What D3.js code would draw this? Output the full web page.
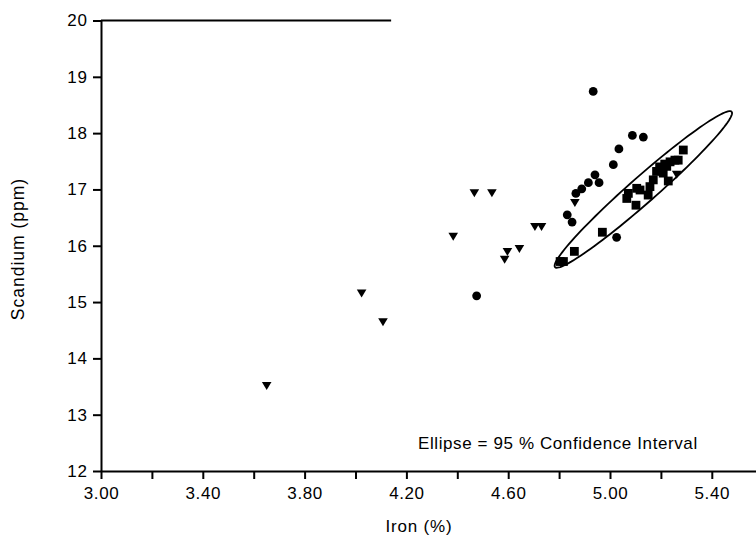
<!DOCTYPE html>
<html>
<head>
<meta charset="utf-8">
<script src="https://cdn.jsdelivr.net/npm/d3@7"></script>
<style>
	body { margin: 0; background: #fff; }
	svg text { font-family: "Liberation Sans", Arial, Helvetica, sans-serif; fill: #000; }
</style>
</head>
<body>
<svg id="chart"></svg>
<script>

// circles
var circleIron		=	[4.934, 5.088, 5.131, 5.035, 5.013, 4.941, 4.957, 4.915, 4.889, 4.866, 4.832, 4.851, 5.026, 4.476];
var circleScandium	=	[18.74, 17.96, 17.93, 17.72, 17.44, 17.26, 17.12, 17.12, 17.01, 16.93, 16.55, 16.42, 16.15, 15.11];

// triangles
var triangleIron	=	[4.467, 4.536, 4.384, 4.705, 4.731, 4.644, 4.597, 4.586, 4.024, 4.108, 3.651, 4.862, 5.262];
var triangleScandium	=	[16.94, 16.94, 16.17, 16.34, 16.34, 15.95, 15.90, 15.76, 15.16, 14.65, 13.52, 16.77, 17.27];

// squares
var squareIron		=	[4.804, 4.817, 4.860, 4.970, 5.102, 5.066, 5.072, 5.105, 5.118, 5.150, 5.157, 5.170, 5.183, 5.203, 5.223, 5.209, 5.229, 5.236, 5.255, 5.268, 5.288, 5.195, 5.215];
var squareScandium	=	[15.72, 15.72, 15.90, 16.24, 16.72, 16.84, 16.93, 17.02, 16.99, 16.90, 17.05, 17.17, 17.32, 17.35, 17.41, 17.29, 17.15, 17.49, 17.52, 17.52, 17.70, 17.40, 17.45];

// 95% ellipse: centre, end of major axis, end of minor axis (data units)
var ellipseCentre	=	[5.131, 17.00];
var ellipseMajor	=	[5.478, 18.38];
var ellipseMinor	=	[5.165, 16.826];

var xTicks	=	[3.0, 3.2, 3.4, 3.6, 3.8, 4.0, 4.2, 4.4, 4.6, 4.8, 5.0, 5.2, 5.4, 5.6];
var xLabels	=	[3.0, 3.4, 3.8, 4.2, 4.6, 5.0, 5.4];
var yTicks	=	[12, 13, 14, 15, 16, 17, 18, 19, 20];

var width	=	756;
var height	=	540;

var svg = d3.select("#chart")
	.attr("width", width)
	.attr("height", height);

var x = d3.scaleLinear().domain([3.0, 5.6]).range([101, 762.7]);
var y = d3.scaleLinear().domain([12, 20]).range([471, 20.5]);

// axes
var xAxis = d3.axisBottom(x)
	.tickValues(xTicks)
	.tickSize(8)
	.tickSizeOuter(0)
	.tickFormat(function(d) {
		return xLabels.some(function(l) { return Math.abs(l - d) < 1e-6; }) ? d.toFixed(2) : '';
	});

var gx = svg.append("g")
	.attr("transform", "translate(0," + y(12) + ")")
	.call(xAxis);

var yAxis = d3.axisLeft(y)
	.tickValues(yTicks)
	.tickSize(8)
	.tickSizeOuter(0)
	.tickFormat(d3.format("d"));

var gy = svg.append("g")
	.attr("transform", "translate(" + x(3.0) + ",0)")
	.call(yAxis);

svg.selectAll(".domain").attr("stroke", "#000").attr("stroke-width", 2).attr("fill", "none");
svg.selectAll(".tick line").attr("stroke", "#000").attr("stroke-width", 2);
svg.selectAll(".tick text").attr("font-size", 17).attr("letter-spacing", 0.6);
gx.selectAll(".tick text").attr("dy", "1.0em");
gy.selectAll(".tick text").attr("dx", "-0.15em");

// top border
svg.append("line")
	.attr("x1", x(3.0)).attr("x2", x(4.14))
	.attr("y1", y(20)).attr("y2", y(20))
	.attr("stroke", "#000").attr("stroke-width", 2);

// axis titles
svg.append("text")
	.attr("x", 419).attr("y", 532)
	.attr("text-anchor", "middle")
	.attr("font-size", 17)
	.attr("letter-spacing", 0.8)
	.text("Iron (%)");

svg.append("text")
	.attr("transform", "translate(24,249) rotate(-90)")
	.attr("text-anchor", "middle")
	.attr("font-size", 17.5)
	.attr("letter-spacing", 1)
	.text("Scandium (ppm)");

// ellipse
var steps = d3.range(0, 121).map(function(i) { return i / 120 * 2 * Math.PI; });
var ax = ellipseMajor[0] - ellipseCentre[0], ay = ellipseMajor[1] - ellipseCentre[1];
var bx = ellipseMinor[0] - ellipseCentre[0], by = ellipseMinor[1] - ellipseCentre[1];

var ellipseLine = d3.line()
	.x(function(t) { return x(ellipseCentre[0] + ax * Math.cos(t) + bx * Math.sin(t)); })
	.y(function(t) { return y(ellipseCentre[1] + ay * Math.cos(t) + by * Math.sin(t)); });

svg.append("path")
	.attr("d", ellipseLine(steps))
	.attr("fill", "none")
	.attr("stroke", "#000")
	.attr("stroke-width", 1.8);

// markers
var circles = circleIron.map(function(v, i) { return { fe: v, sc: circleScandium[i] }; });
var triangles = triangleIron.map(function(v, i) { return { fe: v, sc: triangleScandium[i] }; });
var squares = squareIron.map(function(v, i) { return { fe: v, sc: squareScandium[i] }; });

svg.append("g").selectAll("circle")
	.data(circles)
	.enter().append("circle")
	.attr("cx", function(d) { return x(d.fe); })
	.attr("cy", function(d) { return y(d.sc); })
	.attr("r", 4.4)
	.attr("fill", "#000");

svg.append("g").selectAll("rect")
	.data(squares)
	.enter().append("rect")
	.attr("x", function(d) { return x(d.fe) - 4.4; })
	.attr("y", function(d) { return y(d.sc) - 4.4; })
	.attr("width", 8.8)
	.attr("height", 8.8)
	.attr("fill", "#000");

svg.append("g").selectAll("path")
	.data(triangles)
	.enter().append("path")
	.attr("d", function(d) {
		var cx = x(d.fe), cy = y(d.sc);
		return "M" + (cx - 4.8) + "," + (cy - 3.5) + "L" + (cx + 4.8) + "," + (cy - 3.5) + "L" + cx + "," + (cy + 4.5) + "Z";
	})
	.attr("fill", "#000");

// note
svg.append("text")
	.attr("x", 418).attr("y", 449)
	.attr("font-size", 17)
	.attr("letter-spacing", 0.6)
	.text("Ellipse = 95 % Confidence Interval");

</script>
</body>
</html>
